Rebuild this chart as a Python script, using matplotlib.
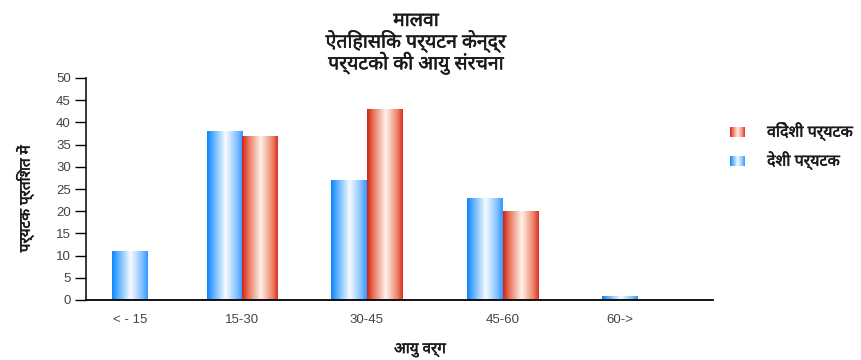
import matplotlib
matplotlib.use('Agg')
import matplotlib.pyplot as plt
import matplotlib.patheffects as pe
import numpy as np
from matplotlib.colors import LinearSegmentedColormap

# data
categories = ['< - 15', '15-30', '30-45', '45-60', '60->']
deshi = [11, 38, 27, 23, 1]             # domestic tourists (blue)
videshi = [None, 37, 43, 20, None]      # foreign tourists (red)

title = 'मालवा\nऐतिहासिक पर्यटन केन्द्र\nपर्यटको की आयु संरचना'
xlabel = 'आयु वर्ग'
ylabel = 'पर्यटक प्रतिशत में'
label_deshi = 'देशी पर्यटक'
label_videshi = 'विदेशी पर्यटक'

# layout: group centres (uneven in the reference) and bar width
group_x = [0.35, 1.25, 2.245, 3.335, 4.27]
bar_w = 0.285

hindi = ['Noto Sans Devanagari', 'DejaVu Sans']
plt.rcParams['font.family'] = ['Liberation Sans', 'DejaVu Sans']
heavy = [pe.withStroke(linewidth=0.35, foreground='#1a1a1a')]

blue_cmap = LinearSegmentedColormap.from_list('blue', [
    (0.0, (0.06, 0.53, 1.0)), (0.15, (0.33, 0.67, 1.0)),
    (0.52, (0.97, 0.985, 1.0)), (0.85, (0.50, 0.75, 1.0)),
    (1.0, (0.18, 0.60, 1.0))])
red_cmap = LinearSegmentedColormap.from_list('red', [
    (0.0, (0.84, 0.13, 0.09)), (0.15, (0.90, 0.42, 0.32)),
    (0.52, (1.0, 0.95, 0.92)), (0.85, (0.93, 0.52, 0.42)),
    (1.0, (0.86, 0.20, 0.14))])
grad = np.linspace(0, 1, 64).reshape(1, -1)

fig = plt.figure(figsize=(8.61, 3.6), dpi=100)
ax = fig.add_axes([86 / 861, 60 / 360, 627 / 861, 222 / 360])


def gradient_bars(xs, vals, cmap):
    for x, v in zip(xs, vals):
        bars = ax.bar(x, v, width=bar_w, color='none', edgecolor='none')
        p = bars[0]
        x0, y0 = p.get_x(), p.get_y()
        im = ax.imshow(grad, cmap=cmap, aspect='auto', interpolation='bicubic',
                       extent=[x0, x0 + p.get_width(), y0, y0 + p.get_height()],
                       zorder=2)
        im.set_clip_path(p)


# paired groups: blue on the left, red on the right; single bars centred
bx, bv, rx, rv = [], [], [], []
for gx, d, f in zip(group_x, deshi, videshi):
    if f is None:
        bx.append(gx)
    else:
        bx.append(gx - bar_w / 2)
        rx.append(gx + bar_w / 2)
        rv.append(f)
    bv.append(d)
gradient_bars(bx, bv, blue_cmap)
gradient_bars(rx, rv, red_cmap)

ax.set_xlim(0, 5.016)
ax.set_ylim(0, 50)
ax.set_yticks(range(0, 51, 5))
ax.set_xticks(group_x)
ax.set_xticklabels(categories)
ax.tick_params(axis='y', length=8, width=1, pad=3, labelsize=9.5, labelcolor='#444444')
ax.tick_params(axis='x', length=0, pad=10, labelsize=9.5, labelcolor='#444444')
for s in ['top', 'right']:
    ax.spines[s].set_visible(False)
ax.spines['left'].set_linewidth(1.1)
ax.spines['bottom'].set_linewidth(1.3)

fig.text(416 / 861, 1 - 11 / 360, title, ha='center', va='top', fontsize=14,
         family=hindi, linespacing=0.98, color='#1a1a1a', path_effects=heavy)
fig.text(420 / 861, 1 - 350 / 360, xlabel, ha='center', va='center', fontsize=11,
         family=hindi, color='#1a1a1a', path_effects=heavy)
fig.text(25 / 861, 1 - 199 / 360, ylabel, ha='center', va='center', rotation=90,
         fontsize=11, family=hindi, color='#1a1a1a', path_effects=heavy)

# legend drawn by hand so the swatches keep the gradient
for y, cmap, lab in [(132, red_cmap, label_videshi), (161, blue_cmap, label_deshi)]:
    sw = fig.add_axes([730 / 861, 1 - (y + 5) / 360, 15 / 861, 10 / 360])
    sw.imshow(grad, cmap=cmap, aspect='auto', interpolation='bicubic')
    sw.set_axis_off()
    fig.text(767 / 861, 1 - y / 360, lab, ha='left', va='center', fontsize=11.5,
             family=hindi, color='#1a1a1a', path_effects=heavy)

fig.savefig('out.png')
